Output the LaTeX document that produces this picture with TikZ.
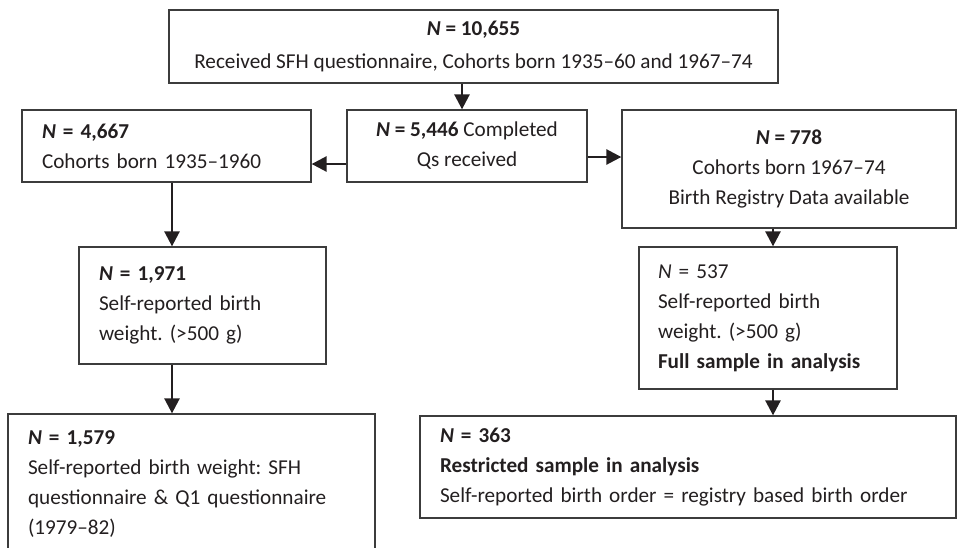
\documentclass[tikz,border=0pt]{standalone}
\usepackage{fontspec}
\setmainfont{Carlito}
\usetikzlibrary{arrows.meta}
\definecolor{ink}{HTML}{231F20}
\definecolor{edge}{HTML}{3C3C3C}
\begin{document}
\frenchspacing
\begin{tikzpicture}[x=1pt,y=-1pt,
  box/.style={draw=edge, line width=1.3pt, text=ink, font=\fontsize{21.2}{30}\selectfont\frenchspacing, inner ysep=0pt},
  lbox/.style={box, align=left, inner xsep=20pt},
  cbox/.style={box, align=center, inner xsep=4pt},
  arr/.style={draw=ink, line width=2.6pt, -{Triangle[length=15pt,width=15pt]}}]
\clip (0,0) rectangle (957,547);
\node[cbox, minimum width=609pt, minimum height=73pt] (top) at (473.5,46.5)
  {\textbf{\textit{N} = 10,655}\\[3pt]Received SFH questionnaire, Cohorts born 1935–60 and 1967–74};
\node[lbox, text width=249pt, minimum width=289pt, minimum height=72pt] (left) at (166.5,146)
  {\textbf{\textit{N} = 4,667}\\Cohorts born 1935–1960};
\node[cbox, minimum width=240pt, minimum height=72pt] (mid) at (467,146)
  {\textbf{\textit{N} = 5,446} Completed\\Qs received};
\node[cbox, minimum width=334pt, minimum height=118pt] (right) at (789,169)
  {\textbf{\textit{N} = 778}\\Cohorts born 1967–74\\Birth Registry Data available};
\node[lbox, text width=207pt, minimum width=247pt, minimum height=117pt] (b1971) at (202.5,305.5)
  {\textbf{\textit{N} = 1,971}\\Self-reported birth\\weight. (>500 g)};
\node[lbox, inner xsep=19pt, text width=220pt, minimum width=258pt, minimum height=142pt] (b537) at (768,318)
  {\textit{N} = 537\\Self-reported birth\\weight. (>500 g)\\\textbf{Full sample in analysis}};
\node[lbox, text width=327pt, minimum width=367pt, minimum height=141pt] (b1579) at (191.5,484.5)
  {\textbf{\textit{N} = 1,579}\\Self-reported birth weight: SFH\\questionnaire \& Q1 questionnaire\\(1979–82)};
\node[lbox, text width=496pt, minimum width=536pt, minimum height=102pt] (b363) at (688,467)
  {\textbf{\textit{N} = 363}\\\textbf{Restricted sample in analysis}\\Self-reported birth order = registry based birth order};
\coordinate (xa) at (462,0);
\coordinate (ya) at (0,164);
\coordinate (yb) at (0,157);
\coordinate (xb) at (172,0);
\coordinate (xc) at (773,0);
\draw[arr] (top.south -| xa) -- (mid.north -| xa);
\draw[arr] (mid.west |- ya) -- (left.east |- ya);
\draw[arr] (mid.east |- yb) -- (right.west |- yb);
\draw[arr] (left.south -| xb) -- (b1971.north -| xb);
\draw[arr] (b1971.south -| xb) -- (b1579.north -| xb);
\draw[arr] (right.south -| xc) -- (b537.north -| xc);
\draw[arr] (b537.south -| xc) -- (b363.north -| xc);
\end{tikzpicture}
\end{document}
